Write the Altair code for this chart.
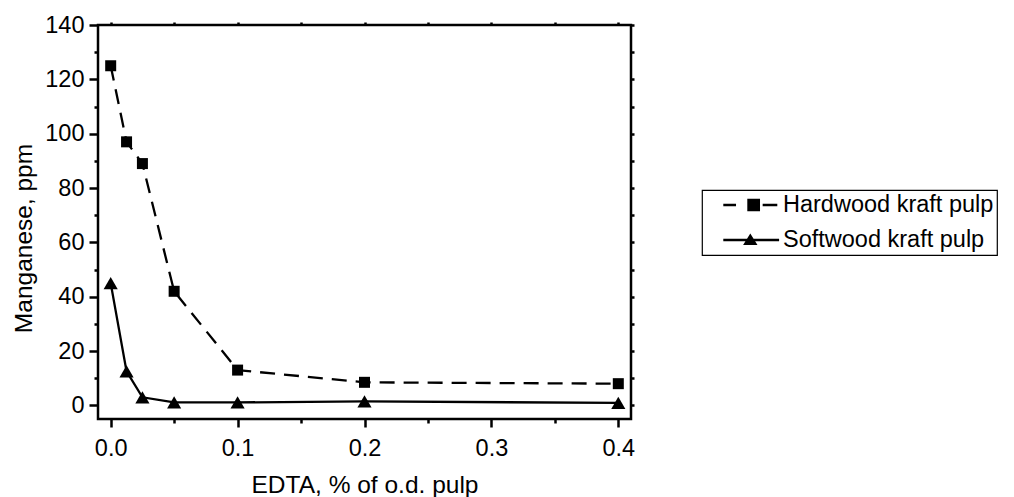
import altair as alt
import pandas as pd

# EDTA charge (% on o.d. pulp) and residual manganese (ppm)
edta = [0.0, 0.0125, 0.025, 0.05, 0.1, 0.2, 0.4]
hardwood = [125, 97, 89, 42, 13, 8.5, 8]
softwood = [45, 12.5, 3, 1.1, 1.1, 1.5, 0.9]
series_names = ["Hardwood kraft pulp", "Softwood kraft pulp"]

# tick positions (major + minor)
x_ticks = [0.0, 0.05, 0.1, 0.15, 0.2, 0.25, 0.3, 0.35, 0.4]
y_ticks = [0, 10, 20, 30, 40, 50, 60, 70, 80, 90, 100, 110, 120, 130, 140]

rows = []
for name, vals in zip(series_names, [hardwood, softwood]):
    for x, v in zip(edta, vals):
        rows.append({"edta": x, "mn": v, "series": name})
df = pd.DataFrame(rows)

FONT = "Liberation Sans"
LABEL_FS = 23.5
TITLE_FS = 24.5
LW = 2.3

x_scale = alt.Scale(domain=[-0.01, 0.41], nice=False, zero=False)
y_scale = alt.Scale(domain=[-5, 140], nice=False, zero=False)

x_axis = alt.Axis(
    values=x_ticks,
    labelExpr="round(datum.value * 100) % 10 == 0 ? format(datum.value, '.1f') : ''",
    tickSize={"condition": {"test": "round(datum.value * 100) % 10 != 0", "value": 4}, "value": 8},
    labelPadding=9,
    titlePadding=14,
    labelFlush=False,
    labelOverlap=False,
    grid=False,
)
y_axis = alt.Axis(
    values=y_ticks,
    labelExpr="datum.value % 20 == 0 ? datum.label : ''",
    tickSize={"condition": {"test": "datum.value % 20 != 0", "value": 4}, "value": 9},
    labelPadding=5,
    titlePadding=8,
    titleY=213,
    labelFlush=False,
    labelOverlap=False,
    grid=False,
)

hw = df[df.series == series_names[0]]
sw = df[df.series == series_names[1]]

hw_line = alt.Chart(hw).mark_line(
    color="black", strokeWidth=LW, strokeDash=[15, 9]
).encode(
    x=alt.X("edta:Q", scale=x_scale, axis=x_axis, title="EDTA, % of o.d. pulp"),
    y=alt.Y("mn:Q", scale=y_scale, axis=y_axis, title="Manganese, ppm"),
)
sw_line = alt.Chart(sw).mark_line(color="black", strokeWidth=LW).encode(
    x=alt.X("edta:Q", scale=x_scale, axis=None),
    y=alt.Y("mn:Q", scale=y_scale, axis=None),
)
hw_pts = alt.Chart(hw).mark_point(
    shape="square", filled=True, color="black", size=121, opacity=1
).encode(
    x=alt.X("edta:Q", scale=x_scale, axis=None),
    y=alt.Y("mn:Q", scale=y_scale, axis=None),
)
sw_pts = alt.Chart(sw).mark_point(
    shape="triangle-up", filled=True, color="black", size=200, opacity=1
).encode(
    x=alt.X("edta:Q", scale=x_scale, axis=None),
    y=alt.Y("mn:Q", scale=y_scale, axis=None),
)

# legend glyphs drawn as filled outlines: line pieces with the marker in the middle
dash_square = (
    "M-2.25,-0.096H-1.19V0.096H-2.25Z"
    "M1.03,-0.096H2.25V0.096H1.03Z"
    "M-0.25,-0.53H0.81V0.53H-0.25Z"
)
line_triangle = (
    "M-2.25,-0.096H2.4V0.096H-2.25Z"
    "M-0.6,0.42L0,-0.55L0.6,0.42Z"
)

frame_ticks = dict(labels=False, domain=False, tickSize=3, title=None, grid=False)

legend_layer = alt.Chart(df).mark_point(
    filled=True, color="black", opacity=0
).encode(
    x=alt.X("edta:Q", scale=x_scale,
            axis=alt.Axis(orient="top", values=x_ticks, **frame_ticks)),
    y=alt.Y("mn:Q", scale=y_scale,
            axis=alt.Axis(orient="right", values=y_ticks, **frame_ticks)),
    shape=alt.Shape(
        "series:N",
        scale=alt.Scale(domain=series_names, range=[dash_square, line_triangle]),
        legend=alt.Legend(
            title=None, orient="none", legendX=604, legendY=165,
            symbolOpacity=1, symbolSize=576, symbolStrokeWidth=0,
            symbolFillColor="black",
            symbolOffset=33.3, labelOffset=20.7, padding=3, rowPadding=11,
            labelExpr="datum.label + '\u00a0'",
            labelFont=FONT, labelFontSize=LABEL_FS, labelColor="black", labelLimit=400,
            strokeColor="black", fillColor="white",
        ),
    ),
)

chart = alt.layer(hw_line, sw_line, hw_pts, sw_pts, legend_layer).resolve_axis(
    x="independent", y="independent"
).properties(
    width=533, height=394,
    autosize=alt.AutoSizeParams(type="none"),
    padding={"left": 98, "top": 25, "right": 383, "bottom": 78},
).configure(
    background="white"
).configure_view(
    stroke="black", strokeWidth=2.5
).configure_axis(
    domain=False, tickColor="black", tickWidth=2.5, grid=False,
    labelFont=FONT, labelFontSize=LABEL_FS, labelColor="black",
    titleFont=FONT, titleFontSize=TITLE_FS, titleFontWeight="normal", titleColor="black",
).configure_legend(
    strokeWidth=1.2
)

chart.save("out.html", embed_options={"renderer": "svg", "actions": False})
